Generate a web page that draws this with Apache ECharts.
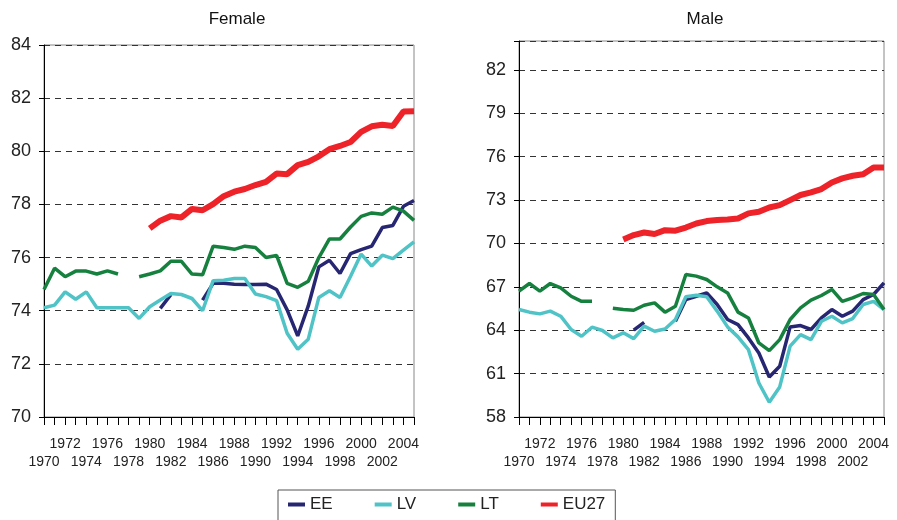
<!DOCTYPE html>
<html lang="en">
<head>
    <meta charset="UTF-8">
    <title>Life expectancy</title>
    <script type="text/javascript" src="https://cdn.jsdelivr.net/npm/echarts@6/dist/echarts.min.js"></script>
    <style>
        body { margin: 0; background: #fff; }
        #main { width: 897px; height: 520px; }
    </style>
</head>
<body>
<div id="main"></div>
<script>
    // years 1970 .. 2005
    let years = [];
    for (let y = 1970; y <= 2005; y++) years.push(String(y));

    // Female
    let femEE = [null, null, null, null, null, null, null, null, null, null, null,
        74.09, 74.6, null, null, 74.4, 75.03, 75.03, 75.0, 74.99, 74.99, 75.0, 74.8, 74.03, 73.05,
        74.18, 75.65, 75.9, 75.4, 76.15, 76.3, 76.43, 77.13, 77.21, 77.93, 78.15];
    let femLV = [74.11, 74.21, 74.71, 74.43, 74.71, 74.11, 74.11, 74.11, 74.11, 73.71, 74.15,
        74.4, 74.65, 74.61, 74.46, 74.0, 75.13, 75.15, 75.21, 75.21, 74.63, 74.53, 74.38, 73.15, 72.55,
        72.93, 74.5, 74.75, 74.5, 75.3, 76.13, 75.68, 76.09, 75.96, 76.28, 76.59];
    let femLT = [74.8, 75.6, 75.28, 75.49, 75.49, 75.38, 75.5, 75.38, null, 75.28, 75.38,
        75.5, 75.86, 75.86, 75.38, 75.35, 76.43, 76.38, 76.31, 76.43, 76.38, 76.0, 76.08, 75.03, 74.88,
        75.11, 76.0, 76.7, 76.7, 77.15, 77.55, 77.68, 77.63, 77.9, 77.75, 77.4];
    let femEU = [null, null, null, null, null, null, null, null, null, null, 77.1,
        77.39, 77.56, 77.51, 77.83, 77.78, 78.01, 78.31, 78.48, 78.58, 78.73, 78.85, 79.16, 79.14, 79.48,
        79.6, 79.81, 80.08, 80.2, 80.35, 80.73, 80.94, 81.0, 80.95, 81.5, 81.51];

    // Male
    let maleEE = [null, null, null, null, null, null, null, null, null, null, null,
        64.0, 64.55, null, null, 64.62, 66.12, 66.35, 66.58, 65.78, 64.74, 64.39, 63.47, 62.43, 60.77,
        61.51, 64.23, 64.32, 64.05, 64.85, 65.43, 64.97, 65.32, 66.12, 66.47, 67.28];
    let maleLV = [65.43, 65.25, 65.13, 65.32, 64.97, 64.05, 63.58, 64.21, 63.98, 63.47, 63.82,
        63.42, 64.28, 63.93, 64.09, 64.74, 66.31, 66.42, 66.31, 65.32, 64.23, 63.54, 62.66, 60.35, 59.02,
        60.08, 62.9, 63.7, 63.35, 64.62, 64.97, 64.51, 64.81, 65.78, 66.0, 65.43];
    let maleLT = [66.7, 67.23, 66.7, 67.23, 66.93, 66.35, 66.0, 66.0, null, 65.52, 65.43,
        65.38, 65.73, 65.89, 65.25, 65.66, 67.85, 67.74, 67.51, 67.0, 66.58, 65.25, 64.85, 63.12, 62.59,
        63.35, 64.74, 65.55, 66.08, 66.4, 66.82, 66.0, 66.24, 66.54, 66.47, 65.43];
    let maleEU = [null, null, null, null, null, null, null, null, null, null, 70.28,
        70.58, 70.76, 70.65, 70.92, 70.88, 71.1, 71.38, 71.55, 71.62, 71.66, 71.73, 72.08, 72.19, 72.49,
        72.65, 73.0, 73.35, 73.53, 73.76, 74.22, 74.5, 74.68, 74.78, 75.26, 75.26];

    let colors = {EE: '#262673', LV: '#4fc3c6', LT: '#16803f', EU27: '#ee2229'};
    let font = 'Liberation Sans, Arial, sans-serif';

    function xAxis(idx) {
        return {
            gridIndex: idx,
            type: 'category',
            data: years,
            boundaryGap: false,
            axisLine: {lineStyle: {color: '#000', width: 1}},
            axisTick: {interval: 0, length: 8, lineStyle: {color: '#000'}},
            axisLabel: {
                interval: 0,
                margin: 18,
                fontSize: 14,
                lineHeight: 18,
                color: '#222',
                fontFamily: font,
                formatter: function (v) {
                    let d = Number(v) - 1970;
                    if (d % 4 === 2) return v;          // upper row
                    if (d % 4 === 0 && d < 35) return '\n' + v;  // lower row
                    return '';
                }
            },
            splitLine: {show: false}
        };
    }

    function yAxis(idx, min, max, step) {
        return {
            gridIndex: idx,
            type: 'value',
            min: min,
            max: max,
            interval: step,
            axisLine: {show: true, lineStyle: {color: '#000', width: 1}},
            axisTick: {show: true, length: 5, lineStyle: {color: '#000'}},
            axisLabel: {
                fontSize: 18,
                color: '#222',
                margin: 13,
                fontFamily: font,
                // the top of the male panel is not a tick value
                formatter: function (v) { return ((v - min) % step !== 0) ? '' : v; }
            },
            splitLine: {show: true, lineStyle: {color: '#333', type: [6, 5], width: 1}}
        };
    }

    function line(name, data, idx, width) {
        return {
            name: name,
            type: 'line',
            xAxisIndex: idx,
            yAxisIndex: idx,
            data: data,
            symbol: 'none',
            connectNulls: false,
            lineStyle: {width: width, color: colors[name]},
            itemStyle: {color: colors[name]}
        };
    }

    var myChart = echarts.init(document.getElementById('main'));
    var option = {
        animation: false,
        title: [
            {text: 'Female', left: 232, top: 6, textAlign: 'center',
                textStyle: {fontSize: 17, fontWeight: 'normal', color: '#111', fontFamily: font}},
            {text: 'Male', left: 700, top: 6, textAlign: 'center',
                textStyle: {fontSize: 17, fontWeight: 'normal', color: '#111', fontFamily: font}}
        ],
        grid: [
            {left: 44, right: 483, top: 45, bottom: 103, show: true, borderColor: '#888', borderWidth: 1},
            {left: 519, right: 13, top: 41, bottom: 103, show: true, borderColor: '#888', borderWidth: 1}
        ],
        xAxis: [xAxis(0), xAxis(1)],
        yAxis: [yAxis(0, 70, 84, 2), yAxis(1, 58, 84, 3)],
        legend: {
            data: ['EE', 'LV', 'LT', 'EU27'],
            left: 278,
            top: 490,
            padding: [6, 10, 12, 10],
            itemGap: 42,
            itemWidth: 17,
            itemHeight: 4,
            icon: 'rect',
            borderColor: '#555',
            borderWidth: 1,
            textStyle: {fontSize: 17, color: '#222', fontFamily: font}
        },
        series: [
            line('EE', femEE, 0, 3.5),
            line('LV', femLV, 0, 3.5),
            line('LT', femLT, 0, 3.5),
            line('EU27', femEU, 0, 6),
            line('EE', maleEE, 1, 3.5),
            line('LV', maleLV, 1, 3.5),
            line('LT', maleLT, 1, 3.5),
            line('EU27', maleEU, 1, 6)
        ]
    };
    myChart.setOption(option);
</script>
</body>
</html>
